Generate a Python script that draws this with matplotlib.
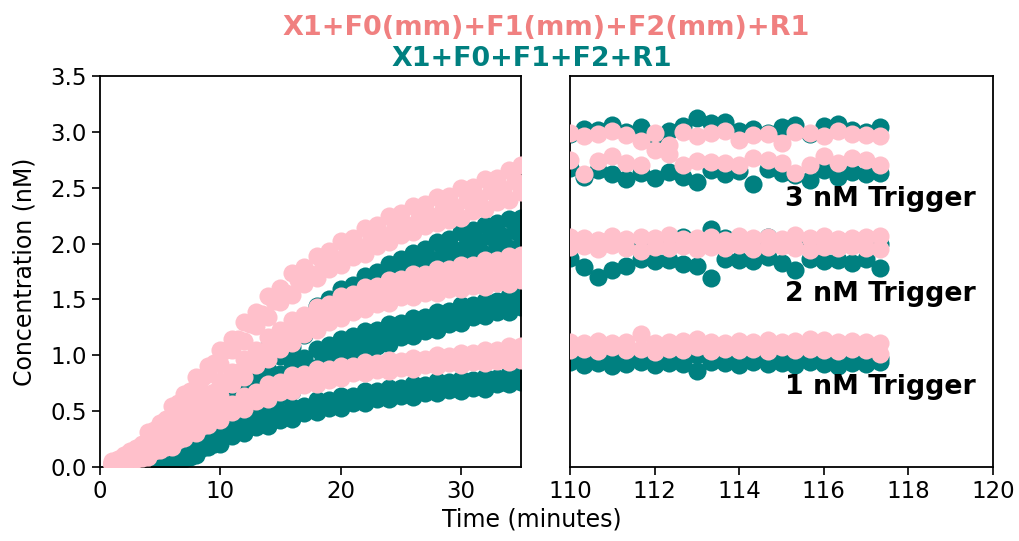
import numpy as np
import matplotlib
matplotlib.use('Agg')
import matplotlib.pyplot as plt

# ---- early kinetics (left panel), minutes ----
t_pink = np.arange(1, 36)
t_pink_mid = np.arange(1.5, 35, 1.0)
t_teal = np.arange(5, 36)
t_teal_mid = np.arange(5.5, 35, 1.0)

pink3a = [0.05, 0.11, 0.17, 0.31, 0.39, 0.55, 0.65, 0.81, 0.90, 1.05, 1.15, 1.30, 1.39, 1.53, 1.60, 1.74, 1.79, 1.89,
          1.93, 2.02, 2.05, 2.14, 2.17, 2.25, 2.27, 2.34, 2.35, 2.42, 2.43, 2.50, 2.51, 2.58, 2.59, 2.66, 2.70]
pink3m = [0.07, 0.14, 0.21, 0.33, 0.43, 0.57, 0.68, 0.80, 0.93, 1.05, 1.15, 1.28, 1.37, 1.49, 1.56, 1.67, 1.73,
          1.81, 1.86, 1.94, 1.97, 2.05, 2.08, 2.15, 2.17, 2.23, 2.25, 2.31, 2.33, 2.39, 2.41, 2.47, 2.49, 2.56]
pink3b = [0.04, 0.07, 0.15, 0.23, 0.35, 0.45, 0.59, 0.69, 0.83, 0.92, 1.05, 1.13, 1.26, 1.34, 1.48, 1.54, 1.64, 1.69,
          1.77, 1.81, 1.88, 1.91, 1.98, 2.01, 2.08, 2.10, 2.16, 2.18, 2.21, 2.23, 2.29, 2.31, 2.37, 2.39, 2.46]
pink2a = [0.04, 0.08, 0.11, 0.20, 0.26, 0.37, 0.45, 0.57, 0.65, 0.77, 0.85, 0.97, 1.05, 1.16, 1.23, 1.32, 1.36, 1.43,
          1.46, 1.53, 1.55, 1.61, 1.62, 1.67, 1.68, 1.73, 1.73, 1.77, 1.77, 1.81, 1.81, 1.85, 1.85, 1.89, 1.90]
pink2m = [0.06, 0.08, 0.15, 0.20, 0.30, 0.36, 0.48, 0.55, 0.67, 0.74, 0.85, 0.92, 1.03, 1.09, 1.19, 1.23, 1.31,
          1.34, 1.42, 1.44, 1.50, 1.51, 1.57, 1.57, 1.62, 1.62, 1.67, 1.66, 1.70, 1.69, 1.73, 1.73, 1.77, 1.78]
pink2b = [0.03, 0.05, 0.10, 0.14, 0.23, 0.29, 0.39, 0.46, 0.57, 0.64, 0.74, 0.81, 0.91, 0.97, 1.06, 1.11, 1.19, 1.23,
          1.30, 1.33, 1.39, 1.41, 1.46, 1.47, 1.52, 1.52, 1.56, 1.56, 1.59, 1.59, 1.62, 1.61, 1.65, 1.64, 1.67]
pink1a = [0.03, 0.06, 0.07, 0.13, 0.16, 0.24, 0.29, 0.38, 0.43, 0.52, 0.56, 0.64, 0.67, 0.74, 0.76, 0.82, 0.83, 0.88,
          0.88, 0.90, 0.90, 0.94, 0.93, 0.96, 0.95, 0.98, 0.97, 1.00, 0.99, 1.02, 1.02, 1.05, 1.05, 1.08, 1.08]
pink1m = [0.04, 0.07, 0.08, 0.14, 0.18, 0.24, 0.31, 0.37, 0.44, 0.49, 0.56, 0.60, 0.66, 0.69, 0.74, 0.76, 0.80,
          0.81, 0.85, 0.86, 0.89, 0.89, 0.92, 0.91, 0.94, 0.93, 0.96, 0.95, 0.97, 0.97, 0.99, 0.98, 1.01, 1.00]
pink1b = [0.02, 0.04, 0.07, 0.09, 0.15, 0.18, 0.26, 0.30, 0.38, 0.42, 0.49, 0.52, 0.59, 0.61, 0.67, 0.68, 0.73, 0.74,
          0.78, 0.80, 0.84, 0.84, 0.87, 0.86, 0.89, 0.88, 0.91, 0.90, 0.93, 0.91, 0.94, 0.93, 0.95, 0.94, 0.96]

teal3a = [0.00, 0.06, 0.13, 0.27, 0.37, 0.53, 0.65, 0.81, 0.93, 1.07, 1.13, 1.26, 1.33, 1.44, 1.50, 1.59,
          1.63, 1.71, 1.75, 1.82, 1.86, 1.92, 1.95, 2.01, 2.04, 2.10, 2.12, 2.17, 2.18, 2.22, 2.23]
teal3m = [0.02, 0.09, 0.16, 0.29, 0.39, 0.54, 0.65, 0.80, 0.90, 1.03, 1.09, 1.22, 1.29, 1.39, 1.45,
          1.53, 1.57, 1.65, 1.69, 1.75, 1.78, 1.84, 1.86, 1.91, 1.94, 2.00, 2.02, 2.06, 2.07, 2.11]
teal3b = [0.00, 0.03, 0.11, 0.19, 0.31, 0.41, 0.55, 0.65, 0.78, 0.87, 0.99, 1.07, 1.18, 1.24, 1.34, 1.39,
          1.48, 1.52, 1.59, 1.62, 1.69, 1.71, 1.77, 1.79, 1.84, 1.85, 1.90, 1.91, 1.96, 1.96, 2.00]
teal2a = [0.00, 0.05, 0.09, 0.18, 0.24, 0.37, 0.45, 0.57, 0.65, 0.76, 0.83, 0.93, 0.98, 1.06, 1.09, 1.15,
          1.17, 1.22, 1.23, 1.28, 1.29, 1.33, 1.34, 1.39, 1.40, 1.45, 1.45, 1.49, 1.49, 1.53, 1.54]
teal2m = [0.02, 0.07, 0.11, 0.20, 0.26, 0.36, 0.43, 0.54, 0.60, 0.70, 0.76, 0.85, 0.89, 0.97, 1.00,
          1.07, 1.09, 1.14, 1.15, 1.21, 1.22, 1.27, 1.28, 1.33, 1.34, 1.38, 1.39, 1.43, 1.43, 1.48]
teal2b = [0.00, 0.03, 0.09, 0.13, 0.22, 0.27, 0.36, 0.41, 0.50, 0.55, 0.64, 0.68, 0.76, 0.80, 0.87, 0.93,
          1.00, 1.02, 1.08, 1.10, 1.16, 1.17, 1.22, 1.23, 1.28, 1.29, 1.34, 1.35, 1.39, 1.39, 1.43]
teal1a = [0.00, 0.05, 0.08, 0.17, 0.21, 0.29, 0.33, 0.40, 0.42, 0.48, 0.49, 0.54, 0.55, 0.60, 0.60, 0.64,
          0.64, 0.68, 0.68, 0.71, 0.71, 0.74, 0.73, 0.77, 0.76, 0.79, 0.78, 0.81, 0.80, 0.83, 0.83]
teal1m = [0.02, 0.06, 0.09, 0.17, 0.21, 0.29, 0.32, 0.38, 0.40, 0.45, 0.46, 0.51, 0.52, 0.56, 0.57,
          0.61, 0.61, 0.65, 0.64, 0.68, 0.67, 0.71, 0.70, 0.73, 0.72, 0.75, 0.74, 0.77, 0.76, 0.80]
teal1b = [0.00, 0.02, 0.07, 0.11, 0.18, 0.21, 0.28, 0.30, 0.36, 0.37, 0.42, 0.43, 0.48, 0.49, 0.53, 0.53,
          0.57, 0.57, 0.61, 0.61, 0.64, 0.63, 0.66, 0.66, 0.69, 0.68, 0.71, 0.70, 0.74, 0.74, 0.76]

# ---- late plateau (right panel), 20 s reads ----
t_late = np.round(110 + np.arange(23) / 3, 2)

late_teal3a = [2.98, 3.03, 3.02, 3.06, 3.00, 3.04, 2.97, 3.01, 3.05, 3.12, 3.08, 3.09, 3.01, 3.03, 2.99, 3.04,
               3.06, 2.98, 3.05, 3.07, 3.02, 3.00, 3.04]
late_teal3b = [2.68, 2.60, 2.66, 2.62, 2.58, 2.63, 2.59, 2.64, 2.60, 2.55, 2.66, 2.62, 2.65, 2.53, 2.67, 2.63,
               2.61, 2.57, 2.66, 2.60, 2.64, 2.62, 2.63]
late_pink3a = [2.99, 2.96, 2.98, 3.01, 2.97, 2.92, 2.99, 2.88, 3.00, 2.96, 2.99, 3.01, 2.93, 2.97, 2.98, 2.90,
               3.00, 2.99, 2.96, 3.01, 2.98, 2.97, 2.96]
late_pink3b = [2.75, 2.62, 2.74, 2.78, 2.72, 2.70, 2.84, 2.80, 2.70, 2.74, 2.73, 2.72, 2.70, 2.77, 2.75, 2.72,
               2.63, 2.70, 2.78, 2.72, 2.77, 2.75, 2.70]
late_teal2a = [2.03, 2.00, 2.02, 2.05, 2.01, 2.04, 2.03, 2.02, 2.06, 2.01, 2.13, 2.05, 2.02, 2.03, 2.06, 2.01,
               2.04, 2.02, 2.05, 2.03, 2.01, 2.04, 2.00]
late_teal2b = [1.87, 1.79, 1.70, 1.76, 1.80, 1.86, 1.84, 1.85, 1.82, 1.80, 1.69, 1.86, 1.85, 1.84, 1.88, 1.83,
               1.76, 1.86, 1.84, 1.85, 1.83, 1.86, 1.78]
late_pink2a = [2.06, 2.05, 2.03, 2.07, 2.04, 2.06, 2.05, 2.08, 2.04, 2.05, 2.06, 2.03, 2.07, 2.05, 2.06, 2.04,
               2.08, 2.05, 2.07, 2.04, 2.05, 2.06, 2.07]
late_pink2b = [1.97, 1.98, 1.95, 1.99, 1.96, 1.93, 1.97, 1.96, 1.98, 1.95, 1.97, 1.96, 1.99, 1.95, 1.97, 1.98,
               1.96, 1.94, 1.97, 1.96, 1.98, 1.96, 1.95]
late_teal1a = [1.00, 0.98, 1.01, 0.99, 1.02, 1.00, 0.97, 1.01, 0.99, 1.00, 1.02, 0.98, 1.00, 1.01, 0.99, 1.00,
               1.02, 0.98, 1.01, 0.99, 1.00, 1.01, 0.98]
late_teal1b = [0.94, 0.91, 0.93, 0.90, 0.92, 0.94, 0.91, 0.93, 0.92, 0.86, 0.94, 0.93, 0.91, 0.94, 0.92, 0.93,
               0.91, 0.94, 0.92, 0.90, 0.93, 0.92, 0.94]
late_pink1a = [1.12, 1.11, 1.13, 1.11, 1.12, 1.19, 1.11, 1.12, 1.13, 1.15, 1.12, 1.11, 1.13, 1.12, 1.14, 1.12,
               1.13, 1.15, 1.14, 1.12, 1.13, 1.12, 1.11]
late_pink1b = [1.05, 1.06, 1.04, 1.07, 1.05, 1.06, 1.03, 1.06, 1.05, 1.07, 1.04, 1.06, 1.05, 1.06, 1.04, 1.07,
               1.05, 1.06, 1.05, 1.04, 1.06, 1.05, 1.01]

trigger_labels = ['3 nM Trigger', '2 nM Trigger', '1 nM Trigger']
trigger_y = [2.40, 1.55, 0.72]

teal = '#008080'
pink = '#FFC0CB'
msize = 170

W, H = 1019, 541
fig = plt.figure(figsize=(W / 100, H / 100), dpi=100)
ax1 = fig.add_axes([100 / W, 1 - 467 / H, 421 / W, 391 / H])
ax2 = fig.add_axes([570 / W, 1 - 467 / H, 423 / W, 391 / H])

teal_early = [(t_teal, teal3a), (t_teal_mid, teal3m), (t_teal, teal3b),
              (t_teal, teal2a), (t_teal_mid, teal2m), (t_teal, teal2b),
              (t_teal, teal1a), (t_teal_mid, teal1m), (t_teal, teal1b)]
pink_early = [(t_pink, pink3a), (t_pink_mid, pink3m), (t_pink, pink3b),
              (t_pink, pink2a), (t_pink_mid, pink2m), (t_pink, pink2b),
              (t_pink, pink1a), (t_pink_mid, pink1m), (t_pink, pink1b)]
for t, y in teal_early:
    ax1.scatter(t, y, s=msize, color=teal, linewidths=0, zorder=2)
for t, y in pink_early:
    ax1.scatter(t, y, s=msize, color=pink, linewidths=0, zorder=3)

for y in [late_teal3a, late_teal3b, late_teal2a, late_teal2b, late_teal1a, late_teal1b]:
    ax2.scatter(t_late, y, s=msize, color=teal, linewidths=0, zorder=2)
for y in [late_pink3a, late_pink3b, late_pink2a, late_pink2b, late_pink1a, late_pink1b]:
    ax2.scatter(t_late, y, s=msize, color=pink, linewidths=0, zorder=3)

for lab, yy in zip(trigger_labels, trigger_y):
    ax2.text(115.08, yy, lab, fontsize=19.3, fontweight='bold', va='center', ha='left', zorder=5)

ax1.set_xlim(0, 35)
ax1.set_ylim(0, 3.5)
ax1.set_xticks([0, 10, 20, 30])
ax1.set_yticks(np.arange(0, 3.51, 0.5))
ax2.set_xlim(110, 120)
ax2.set_ylim(0, 3.5)
ax2.set_xticks(np.arange(110, 121, 2))
ax2.set_yticks([])

for ax in (ax1, ax2):
    ax.tick_params(labelsize=16.5, length=6, width=1.2)
    for sp in ax.spines.values():
        sp.set_linewidth(1.3)

ax1.set_ylabel('Concentration (nM)', fontsize=17, labelpad=10)
fig.text(532 / W, 1 - 520 / H, 'Time (minutes)', fontsize=17, ha='center', va='center')

fig.text(546 / W, 1 - 28 / H, 'X1+F0(mm)+F1(mm)+F2(mm)+R1', color='#F08080',
         fontsize=19.5, fontweight='bold', ha='center', va='center')
fig.text(532 / W, 1 - 59 / H, 'X1+F0+F1+F2+R1', color=teal,
         fontsize=19.4, fontweight='bold', ha='center', va='center')

fig.savefig('out.png', dpi=100)
